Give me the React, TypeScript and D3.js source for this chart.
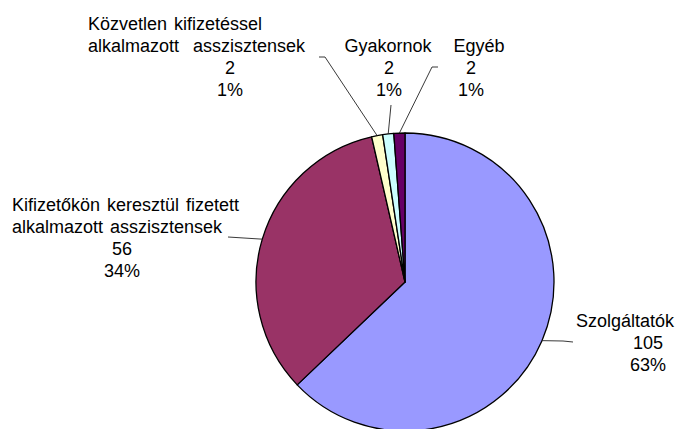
import React, { useEffect, useRef } from 'react'
import * as d3 from 'd3'

// slices, clockwise from 12 o'clock
const names = [
  'Szolgáltatók',
  'Kifizetőkön keresztül fizetett alkalmazott asszisztensek',
  'Közvetlen kifizetéssel alkalmazott asszisztensek',
  'Gyakornok',
  'Egyéb'
]
const values = [105, 56, 2, 2, 2]
const percents = ['63%', '34%', '1%', '1%', '1%']
const colors = ['#9999FF', '#993366', '#FFFFCC', '#CCFFFF', '#660066']

// label text lines (wrapped the way the original has it)
const labelLines = [
  ['Szolgáltatók'],
  ['Kifizetőkön keresztül fizetett', 'alkalmazott asszisztensek'],
  ['Közvetlen kifizetéssel', 'alkalmazott  asszisztensek'],
  ['Gyakornok'],
  ['Egyéb']
]

const W = 678,
  H = 429

// label layout: name x / anchor, number x, first baseline, leader end points
const layout = [
  { x: 625, anchor: 'middle', nx: 648, y: 327, leader: [[563, 341], [573, 342]] },
  { x: 12, anchor: 'start', nx: 122, y: 211, leader: [[228, 237]] },
  { x: 88, anchor: 'start', nx: 230, y: 30, leader: [[325, 57], [319, 57]] },
  { x: 388, anchor: 'middle', nx: 389, y: 52, leader: [[391, 105]] },
  { x: 479, anchor: 'middle', nx: 471, y: 52, leader: [[432, 67], [438, 67]] }
]

const App = () => {
  const ref = useRef<SVGSVGElement>(null)

  useEffect(() => {
    const svg = d3.select(ref.current)
    svg.selectAll('*').remove()

    const cx = 405,
      cy = 282,
      r = 149
    const lineH = 22
    const fs = 18

    const pie = d3.pie<number>().sort(null).value(d => d)
    const arcs = pie(values)
    const arc = d3.arc<d3.PieArcDatum<number>>().innerRadius(0).outerRadius(r)

    const g = svg.append('g').attr('transform', `translate(${cx},${cy})`)

    g.selectAll('path')
      .data(arcs)
      .join('path')
      .attr('d', arc)
      .attr('fill', (d, i) => colors[i])
      .attr('stroke', '#000')
      .attr('stroke-width', 1.3)
      .attr('stroke-linejoin', 'round')

    // leader lines from slice mid edge
    arcs.forEach((d, i) => {
      const a = (d.startAngle + d.endAngle) / 2
      const start: [number, number] = [cx + r * Math.sin(a), cy - r * Math.cos(a)]
      const pts = [start, ...(layout[i].leader as [number, number][])]
      svg
        .append('path')
        .attr('d', d3.line()(pts))
        .attr('fill', 'none')
        .attr('stroke', '#222')
        .attr('stroke-width', 0.9)
    })

    // labels
    const font = "'Liberation Sans', Arial, sans-serif"
    layout.forEach((l, i) => {
      const lines = labelLines[i]
      lines.forEach((t, j) => {
        svg
          .append('text')
          .attr('x', l.x)
          .attr('y', l.y + j * lineH)
          .attr('text-anchor', l.anchor)
          .attr('font-family', font)
          .attr('font-size', fs)
          .attr('word-spacing', 2)
          .attr('fill', '#000')
          .style('white-space', 'pre')
          .text(t)
      })
      const base = l.y + lines.length * lineH
      ;[String(values[i]), percents[i]].forEach((t, j) => {
        svg
          .append('text')
          .attr('x', l.nx)
          .attr('y', base + j * lineH)
          .attr('text-anchor', 'middle')
          .attr('font-family', font)
          .attr('font-size', fs)
          .attr('fill', '#000')
          .text(t)
      })
    })
  }, [])

  return (
    <svg
      ref={ref}
      width={W}
      height={H}
      style={{ position: 'absolute', left: 0, top: 0, background: '#fff' }}
    >
      <title>{names.join(', ')}</title>
    </svg>
  )
}

export default App
